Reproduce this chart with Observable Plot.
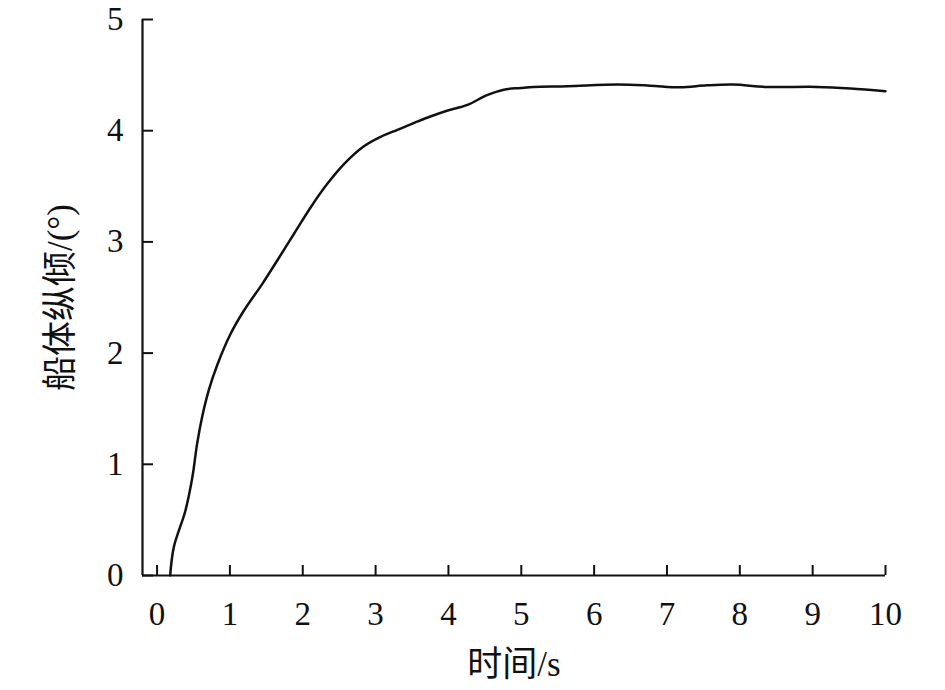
<!DOCTYPE html>
<html><head><meta charset="utf-8">
<script src="https://cdn.jsdelivr.net/npm/d3@7"></script>
<script src="https://cdn.jsdelivr.net/npm/@observablehq/plot@0.6"></script>
<style>
html,body{margin:0;padding:0;background:#fff;}
#chart svg{display:block;}
</style></head>
<body><div id="chart"></div>
<script>
const time = [0.18,0.23,0.39,0.485,0.55,0.62,0.71,0.83,1.01,1.193,1.445,1.65,1.88,2.11,2.337,2.566,2.84,3.07,3.30,3.53,3.76,3.98,4.26,4.53,4.76,4.99,5.17,5.63,6.32,6.77,7.18,7.55,7.91,8.37,9.06,9.52,10.0];
const trim = [0,0.255,0.585,0.885,1.186,1.43,1.667,1.90,2.174,2.383,2.623,2.833,3.073,3.312,3.522,3.70,3.86,3.945,4.008,4.07,4.13,4.18,4.232,4.32,4.369,4.384,4.394,4.40,4.415,4.405,4.39,4.408,4.415,4.394,4.394,4.38,4.355];
const xTicks = [0,1,2,3,4,5,6,7,8,9,10];
const yTicks = [0,1,2,3,4,5];
const xLabel = "时间/s";
const yLabel = "船体纵倾/(°)";

const data = time.map((t,i)=>({t, v: trim[i]}));
const font = "'Liberation Serif','Times New Roman','Noto Sans CJK SC',serif";

const chart = Plot.plot({
  width: 945, height: 690,
  marginLeft: 142, marginRight: 60, marginTop: 19, marginBottom: 115,
  style: {fontFamily: font, fontSize: "33px", color: "#111", background: "#fff"},
  x: {domain: [-0.2, 10]},
  y: {domain: [0, 5]},
  marks: [
    Plot.axisX(xTicks, {tickSize: -10, tickPadding: 36, fontSize: 33, stroke: "#111", strokeWidth: 2, label: null, tickFormat: d3.format("d")}),
    Plot.axisY(yTicks, {tickSize: 0, tickPadding: 19, fontSize: 33, label: null, tickFormat: d3.format("d")}),
    Plot.tickY(yTicks, {y: d => d, insetRight: 732, stroke: "#111", strokeWidth: 2}),
    Plot.ruleX([-0.2], {y1: 0, y2: 5, stroke: "#111", strokeWidth: 2.2}),
    Plot.ruleY([0], {x1: -0.2, x2: 10, stroke: "#111", strokeWidth: 2.2}),
    Plot.line(data, {x: "t", y: "v", curve: "catmull-rom", stroke: "#111", strokeWidth: 2.5}),
    Plot.text([xLabel], {frameAnchor: "bottom", lineAnchor: "middle", textAnchor: "middle", dy: 89, text: d=>d, fontSize: 35, fill: "#111"}),
    Plot.text([yLabel], {frameAnchor: "left", lineAnchor: "middle", textAnchor: "middle", dx: -82, rotate: -90, text: d=>d, fontSize: 35, fill: "#111"})
  ]
});
document.getElementById("chart").append(chart);
</script></body></html>
